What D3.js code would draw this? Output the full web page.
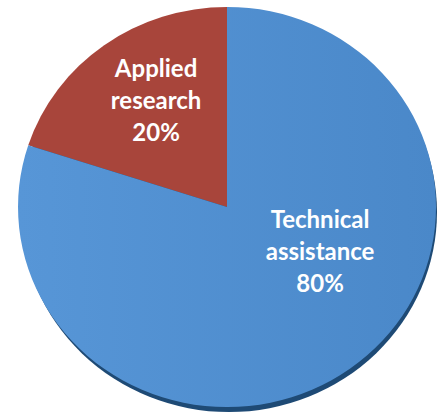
<!DOCTYPE html>
<head>
  <meta charset="utf-8">
  <title>Pie</title>
  <script src="https://d3js.org/d3.v7.min.js"></script>
  <style>
    body { margin: 0; background: #fff; }
    text {
      font-family: Lato, "Open Sans", sans-serif;
      font-weight: bold;
      fill: #fff;
    }
  </style>
</head>

<body>
  <script>
    var categories = ["Applied research", "Technical assistance"],
        labelLines = [["Applied", "research", "20%"], ["Technical", "assistance", "80%"]],
        values = [20, 80],
        colors = ["#a8453b", "#4e8dcf"];

    var width = 444,
        height = 419,
        cx = 227, cy = 207,
        rx = 209, ry = 200;

    var svg = d3.select("body").append("svg")
        .attr("width", width)
        .attr("height", height);

    var defs = svg.append("defs");
    var grad = defs.append("linearGradient")
        .attr("id", "blueGrad")
        .attr("x1", "0").attr("y1", "0")
        .attr("x2", "1").attr("y2", "0");
    grad.append("stop").attr("offset", "0%").attr("stop-color", "#5796d7");
    grad.append("stop").attr("offset", "100%").attr("stop-color", "#4a88c9");

    var pie = d3.pie().sort(null)
        .startAngle(-2 * Math.PI * values[0] / 100)
        .endAngle(2 * Math.PI - 2 * Math.PI * values[0] / 100);

    var arc = d3.arc().innerRadius(0).outerRadius(1);
    var arcs = pie(values);

    // dark rim under the bottom (3d look)
    svg.append("ellipse")
      .attr("cx", cx + 2)
      .attr("cy", cy + 5)
      .attr("rx", rx - 1)
      .attr("ry", ry)
      .style("fill", "#1e4a75");

    var g = svg.append("g")
      .attr("transform", "translate(" + cx + "," + cy + ") scale(" + rx + "," + ry + ")");

    g.selectAll("path")
      .data(arcs)
      .enter().append("path")
        .attr("d", arc)
        .style("fill", function (d, i) { return i === 1 ? "url(#blueGrad)" : colors[i]; });

    // label spots, polar in unit pie coords
    var labelPolar = [[-0.59, 0.61], [2.08, 0.51]];

    var labels = svg.selectAll(".lbl")
      .data(arcs)
      .enter().append("text")
        .attr("class", "lbl")
        .attr("text-anchor", "middle")
        .style("font-size", "24px")
        .attr("transform", function (d, i) {
          var a = labelPolar[i][0], r = labelPolar[i][1];
          var x = cx + rx * r * Math.sin(a),
              y = cy - ry * r * Math.cos(a);
          return "translate(" + x + "," + y + ")";
        });

    labels.each(function (d, i) {
      var t = d3.select(this);
      labelLines[i].forEach(function (s, k) {
        t.append("tspan")
          .attr("x", 0)
          .attr("y", (k - 1) * 32 + 3)
          .text(s);
      });
    });
  </script>
</body>
